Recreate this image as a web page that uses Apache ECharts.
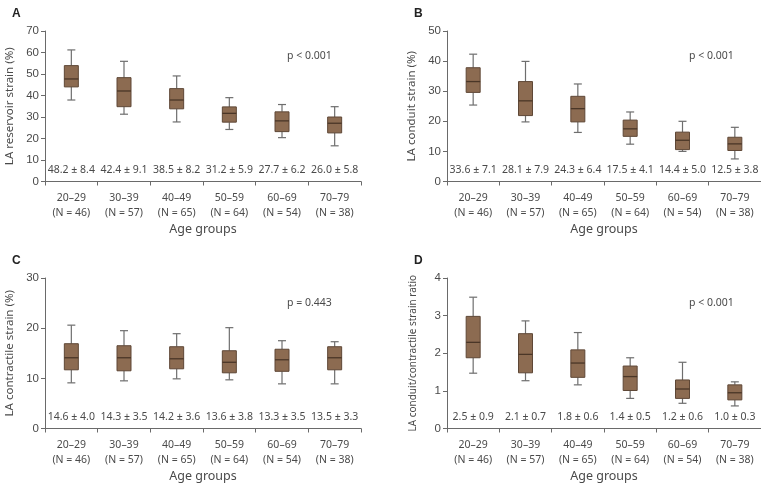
<!DOCTYPE html>
<html><head><meta charset="utf-8">
<script src="https://cdn.jsdelivr.net/npm/echarts@6/dist/echarts.min.js"></script>
<style>html,body{margin:0;padding:0;background:#fff}#c{width:761px;height:488px}</style>
</head><body><div id="c"></div>
<script>
const categories = ['20–29\n(N = 46)','30–39\n(N = 57)','40–49\n(N = 65)','50–59\n(N = 64)','60–69\n(N = 54)','70–79\n(N = 38)'];
// each box: [min, Q1, median, Q3, max]
const reservoirBoxes = [[37.9,44.0,47.7,53.9,61.2],[31.3,34.8,42.1,48.3,55.9],[27.7,33.8,37.9,43.2,49.1],[24.2,27.6,31.7,34.7,39.0],[20.4,23.2,28.2,32.4,35.8],[16.6,22.6,27.1,30.0,34.8]];
const reservoirMeans = ['48.2 ± 8.4','42.4 ± 9.1','38.5 ± 8.2','31.2 ± 5.9','27.7 ± 6.2','26.0 ± 5.8'];
const conduitBoxes = [[25.4,29.6,33.2,37.8,42.3],[19.8,21.9,26.8,33.2,39.9],[16.3,19.8,24.2,28.3,32.4],[12.4,15.0,17.5,20.4,23.1],[10.0,10.6,13.7,16.4,20.0],[7.5,10.3,12.5,14.7,18.0]];
const conduitMeans = ['33.6 ± 7.1','28.1 ± 7.9','24.3 ± 6.4','17.5 ± 4.1','14.4 ± 5.0','12.5 ± 3.8'];
const contractileBoxes = [[9.1,11.7,14.1,16.9,20.6],[9.5,11.5,14.1,16.5,19.5],[9.9,11.9,13.9,16.3,18.9],[9.7,11.1,13.2,15.5,20.1],[8.9,11.4,13.7,15.8,17.5],[8.9,11.7,14.1,16.3,17.3]];
const contractileMeans = ['14.6 ± 4.0','14.3 ± 3.5','14.2 ± 3.6','13.6 ± 3.8','13.3 ± 3.5','13.5 ± 3.3'];
const ratioBoxes = [[1.47,1.88,2.29,2.98,3.49],[1.27,1.48,1.97,2.52,2.86],[1.16,1.36,1.74,2.09,2.55],[0.80,1.01,1.38,1.66,1.88],[0.67,0.80,1.05,1.29,1.76],[0.60,0.76,0.95,1.16,1.24]];
const ratioMeans = ['2.5 ± 0.9','2.1 ± 0.7','1.8 ± 0.6','1.4 ± 0.5','1.2 ± 0.6','1.0 ± 0.3'];

const panels = [
  {letter:'A', title:'LA reservoir strain (%)', max:70, interval:10, boxes:reservoirBoxes, means:reservoirMeans, p:'p < 0.001', left:45, top:31, nameSize:11.5},
  {letter:'B', title:'LA conduit strain (%)', max:50, interval:10, boxes:conduitBoxes, means:conduitMeans, p:'p < 0.001', left:447, top:31, nameSize:11.5},
  {letter:'C', title:'LA contractile strain (%)', max:30, interval:10, boxes:contractileBoxes, means:contractileMeans, p:'p = 0.443', left:45, top:278, nameSize:11.5},
  {letter:'D', title:'LA conduit/contractile strain ratio', max:4, interval:1, boxes:ratioBoxes, means:ratioMeans, p:'p < 0.001', left:447, top:278, nameSize:10}
];

const FONT = '"Noto Sans", sans-serif';
const AX = '#6a6a6a', TXT = '#4a4a4a';
const grid=[], xAxis=[], yAxis=[], series=[], graphic=[];

panels.forEach((p, k) => {
  grid.push({left:p.left, top:p.top, width:316, height:150.5, containLabel:false});
  xAxis.push({type:'category', gridIndex:k, data:categories, boundaryGap:true,
    name:'Age groups', nameLocation:'middle', nameGap:41,
    nameTextStyle:{fontFamily:FONT, fontSize:12.5, color:TXT},
    axisLine:{lineStyle:{color:AX, width:1}},
    axisTick:{show:true, length:4, inside:false, alignWithLabel:false, lineStyle:{color:AX}},
    axisLabel:{fontFamily:FONT, fontSize:10.5, color:TXT, lineHeight:15, margin:9, interval:0},
    splitLine:{show:false}});
  yAxis.push({type:'value', gridIndex:k, min:0, max:p.max, interval:p.interval,
    name:p.title, nameLocation:'middle', nameGap:29,
    nameTextStyle:{fontFamily:FONT, fontSize:p.nameSize, color:TXT},
    axisLine:{show:true, lineStyle:{color:AX, width:1}},
    axisTick:{show:true, length:4, lineStyle:{color:AX}},
    axisLabel:{fontFamily:'"Liberation Sans", Arial, sans-serif', fontSize:11.5, color:TXT, margin:6},
    splitLine:{show:false}});
  const data = p.boxes.map((b, i) => [i].concat(b));
  series.push({type:'custom', xAxisIndex:k, yAxisIndex:k, data:data, clip:false,
    renderItem:(params, api) => {
      const i = api.value(0);
      const mn = api.coord([i, api.value(1)]);
      const q1 = api.coord([i, api.value(2)]);
      const md = api.coord([i, api.value(3)]);
      const q3 = api.coord([i, api.value(4)]);
      const mx = api.coord([i, api.value(5)]);
      const base = api.coord([i, 0]);
      const x = mn[0], bw = 14, cw = 8;
      const wl = {stroke:'#6e6e6e', lineWidth:1.2};
      return {type:'group', children:[
        {type:'line', shape:{x1:x, y1:mx[1], x2:x, y2:q3[1]}, style:wl},
        {type:'line', shape:{x1:x, y1:q1[1], x2:x, y2:mn[1]}, style:wl},
        {type:'line', shape:{x1:x-cw/2, y1:mx[1], x2:x+cw/2, y2:mx[1]}, style:wl},
        {type:'line', shape:{x1:x-cw/2, y1:mn[1], x2:x+cw/2, y2:mn[1]}, style:wl},
        {type:'rect', shape:{x:x-bw/2, y:q3[1], width:bw, height:q1[1]-q3[1]}, style:{fill:'#8c6b51', stroke:'#5e4736', lineWidth:1}},
        {type:'line', shape:{x1:x-bw/2, y1:md[1], x2:x+bw/2, y2:md[1]}, style:{stroke:'#4a3627', lineWidth:1.3}},
        {type:'text', style:{text:p.means[i], x:x, y:base[1]-11, align:'center', verticalAlign:'middle', font:'10.5px "Noto Sans", sans-serif', fill:TXT}}
      ]};
    }});
  graphic.push({type:'text', left:p.left-33, top:p.top-23, style:{text:p.letter, font:'bold 12px "Liberation Sans", Arial, sans-serif', fill:'#222'}});
  graphic.push({type:'text', left:p.left+242, top:p.top+20, style:{text:p.p, font:'10.5px "Noto Sans", sans-serif', fill:TXT}});
});

const chart = echarts.init(document.getElementById('c'), null, {renderer:'canvas'});
chart.setOption({animation:false, backgroundColor:'#fff', grid, xAxis, yAxis, series, graphic});
</script></body></html>
